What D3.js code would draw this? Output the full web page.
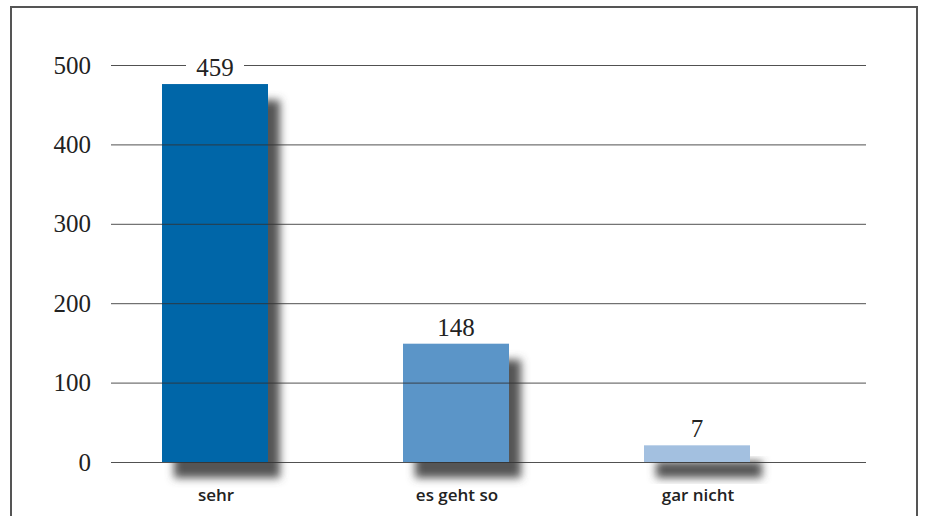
<!DOCTYPE html>
<html><head><meta charset="utf-8">
<script src="https://cdn.jsdelivr.net/npm/d3@7"></script>
<style>html,body{margin:0;padding:0;background:#fff;}</style>
</head><body>
<svg id="c" width="925" height="516"></svg>
<script>
const categories = ["sehr", "es geht so", "gar nicht"];
const valueLabels = ["459", "148", "7"];
const barHeights = [476, 149, 21];
const barColors = ["#0066a8", "#5b95c8", "#a3c0e0"];
const yTicks = [0, 100, 200, 300, 400, 500];

const svg = d3.select("#c");
const defs = svg.append("defs");
const f = defs.append("filter").attr("id","sh").attr("x","-30%").attr("y","-30%").attr("width","160%").attr("height","160%");
f.append("feGaussianBlur").attr("stdDeviation",4);

const y = d3.scaleLinear().domain([0, 500]).range([462, 65]);
const x = d3.scalePoint().domain(categories).range([215, 697]);
const bw = 106;

// frame
svg.append("path").attr("d","M11,520 V7 H917 V520").attr("fill","none").attr("stroke","#555").attr("stroke-width",2);

// shadows
svg.append("g").selectAll("rect").data(categories).join("rect")
  .attr("x", d => x(d) - bw/2 + 12).attr("y", (d,i) => y(barHeights[i]) + 16)
  .attr("width", bw).attr("height", (d,i) => y(0) - y(barHeights[i]))
  .attr("fill", "#555").attr("filter","url(#sh)");

// bars
svg.append("g").selectAll("rect").data(categories).join("rect")
  .attr("x", d => x(d) - bw/2).attr("y", (d,i) => y(barHeights[i]))
  .attr("width", bw).attr("height", (d,i) => y(0) - y(barHeights[i]))
  .attr("fill", (d,i) => barColors[i]);

// y axis with gridlines
const ax = svg.append("g").attr("transform","translate(866,0)")
  .call(d3.axisLeft(y).tickValues(yTicks).tickSize(755).tickPadding(20).tickFormat(d3.format("d")));
ax.select(".domain").remove();
ax.selectAll(".tick line").attr("stroke","#333").attr("stroke-width",1).attr("stroke-opacity",0.85);
ax.selectAll(".tick text").attr("font-family","'Liberation Serif', serif").attr("font-size",25).attr("fill","#222");

// value labels
const lg = svg.append("g");
categories.forEach((c,i) => {
  const t = y(barHeights[i]);
  lg.append("rect").attr("x", x(c) - 29).attr("y", t - 28).attr("width", 58).attr("height", 27).attr("fill","#fff");
  lg.append("text").attr("x", x(c)).attr("y", t - 8).attr("text-anchor","middle")
    .attr("font-family","'Liberation Serif', serif").attr("font-size",25).attr("fill","#222").text(valueLabels[i]);
});

// category labels
svg.append("g").selectAll("text").data(categories).join("text")
  .attr("x", d => x(d) + 1).attr("y", 501).attr("text-anchor","middle")
  .attr("font-family","'Open Sans', sans-serif").attr("font-weight",600).attr("font-size",17).attr("fill","#222")
  .text(d => d);
</script>
</body></html>
